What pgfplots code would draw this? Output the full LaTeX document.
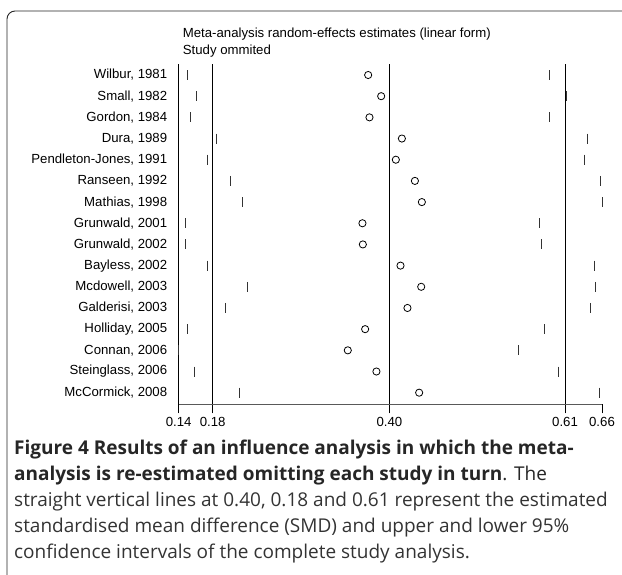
\documentclass[border=0pt]{standalone}
\usepackage{pgfplots}
\pgfplotsset{compat=1.18}
\usepackage{pgfplotstable}
\usepackage{fontspec}
\setmainfont{Liberation Sans}
\newfontfamily\capfont{Open Sans}

\pgfplotstableread{
y lo est hi
16 0.1495 0.3700 0.5909
15 0.1597 0.3859 0.6121
14 0.1527 0.3716 0.5909
13 0.1850 0.4112 0.6374
12 0.1740 0.4038 0.6341
11 0.2012 0.4271 0.6536
10 0.2163 0.4356 0.6557
9 0.1471 0.3630 0.5794
8 0.1471 0.3635 0.5811
7 0.1735 0.4095 0.6463
6 0.2229 0.4348 0.6471
5 0.1951 0.4180 0.6418
4 0.1487 0.3663 0.5852
3 0.1385 0.3451 0.5534
2 0.1576 0.3801 0.6026
1 0.2126 0.4323 0.6524
}\infdata

\begin{document}
\begin{tikzpicture}
\useasboundingbox (0pt,0pt) rectangle (622pt,575pt);
% frame
\draw[black!85, line width=0.9pt, rounded corners=8pt] (7pt,0pt) -- (7pt,564pt) -- (622pt,564pt);
% titles
\node[anchor=base west, inner sep=0pt, font=\fontsize{13.2}{15}\selectfont] at (182.7pt,537.7pt) {Meta-analysis random-effects estimates (linear form)};
\node[anchor=base west, inner sep=0pt, font=\fontsize{13.2}{15}\selectfont] at (182.7pt,520pt) {Study ommited};
\begin{axis}[
  at={(178.7pt,170.7pt)}, anchor=south west,
  scale only axis, width=423.3pt, height=340.3pt,
  xmin=0.1385, xmax=0.6557, ymin=0.452, ymax=16.52,
  axis x line*=bottom, axis y line*=left,
  x axis line style={black!65, line width=0.8pt},
  y axis line style={black, line width=0.8pt},
  xtick={0.1385,0.1801,0.3960,0.6105,0.6557},
  xticklabels={0.14,0.18,0.40,0.61,0.66},
  tick align=outside, major tick length=9pt,
  xtick style={black, line width=0.8pt},
  ytick={1,...,16},
  yticklabels={{McCormick, 2008},{Steinglass, 2006},{Connan, 2006},{Holliday, 2005},{Galderisi, 2003},{Mcdowell, 2003},{Bayless, 2002},{Grunwald, 2002},{Grunwald, 2001},{Mathias, 1998},{Ranseen, 1992},{Pendleton-Jones, 1991},{Dura, 1989},{Gordon, 1984},{Small, 1982},{Wilbur, 1981}},
  ytick style={draw=none},
  /pgf/number format/assume math mode=true,
  ticklabel style={font=\fontsize{13.2}{15}\selectfont},
  yticklabel style={xshift=1pt},
  clip=false,
]
\addplot[black, line width=0.8pt] coordinates {(0.1801,0.452) (0.1801,16.52)};
\addplot[black, line width=0.8pt] coordinates {(0.3960,0.452) (0.3960,16.52)};
\addplot[black, line width=0.8pt] coordinates {(0.6105,0.452) (0.6105,16.52)};
\addplot[only marks, mark=|, mark size=5pt, mark options={black!80, line width=0.8pt}] table[x=lo, y=y] {\infdata};
\addplot[only marks, mark=|, mark size=5pt, mark options={black!80, line width=0.8pt}] table[x=hi, y=y] {\infdata};
\addplot[only marks, mark=o, mark size=3.6pt, mark options={black, line width=0.8pt}] table[x=est, y=y] {\infdata};
\end{axis}
% caption
\node[anchor=base west, inner sep=0pt, font=\capfont\fontsize{19}{27}\selectfont\bfseries, text=black!85] at (14pt,120pt) {Figure 4 Results of an influence analysis in which the meta-};
\node[anchor=base west, inner sep=0pt, font=\capfont\fontsize{19}{27}\selectfont, text=black!85] at (14pt,94pt) {\textbf{analysis is re-estimated omitting each study in turn}. The};
\node[anchor=base west, inner sep=0pt, font=\capfont\fontsize{19}{27}\selectfont, text=black!80] at (14pt,68pt) {straight vertical lines at 0.40, 0.18 and 0.61 represent the estimated};
\node[anchor=base west, inner sep=0pt, font=\capfont\fontsize{19}{27}\selectfont, text=black!80] at (14pt,42pt) {standardised mean difference (SMD) and upper and lower 95\%};
\node[anchor=base west, inner sep=0pt, font=\capfont\fontsize{19}{27}\selectfont, text=black!80] at (14pt,16pt) {confidence intervals of the complete study analysis.};
\end{tikzpicture}
\end{document}
